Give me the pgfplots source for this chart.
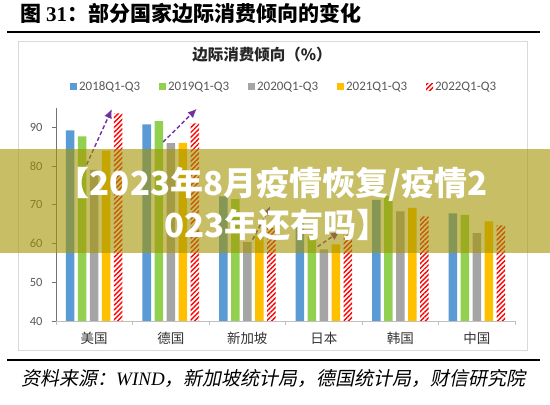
\documentclass[border=0pt]{standalone}
\usepackage{pgfplots}
\pgfplotsset{compat=1.18}
\usepackage{fontspec}
\setmainfont{Carlito}
\newfontfamily\cjk{Noto Sans CJK SC}
\newfontfamily\cjkit[FakeSlant=0.2]{Noto Sans CJK SC}
\newfontfamily\tnr{Liberation Serif}
\usetikzlibrary{patterns.meta,arrows.meta}

\definecolor{cBlue}{HTML}{5B9BD5}
\definecolor{cGreen}{HTML}{92D050}
\definecolor{cGrey}{HTML}{A5A5A5}
\definecolor{cYellow}{HTML}{FFC000}
\definecolor{cRed}{HTML}{FF0000}
\definecolor{cPurple}{HTML}{7030A0}
\definecolor{txt}{HTML}{595959}
\definecolor{frame}{HTML}{D9D9D9}
\definecolor{band}{RGB}{163,148,0}

\begin{document}
\begin{tikzpicture}[x=1pt,y=1pt]
\fill[white] (0,0) rectangle (550,405);
\path[use as bounding box] (0,0) rectangle (550,405);

% heading and rules
\node[anchor=west, inner sep=0pt] at (20,391)
  {\fontsize{21}{21}\selectfont\cjk\bfseries 图 {\tnr\bfseries 31}：部分国家边际消费倾向的变化};
\draw[line width=2.2pt] (7,373) -- (540,373);
\draw[line width=2.2pt] (7,45) -- (540,45);
\draw[frame, line width=0.8pt] (18,364) rectangle (527,55);

% chart title
\node[text=black!85] at (262,350)
  {\cjk\bfseries\fontsize{15.5}{15.5}\selectfont 边际消费倾向（\%）};

\begin{axis}[
  at={(56pt,84pt)}, anchor=south west,
  scale only axis, width=459pt, height=213pt,
  xmin=-0.5, xmax=5.5, ymin=40, ymax=95,
  axis x line*=bottom, axis y line*=left,
  x axis line style={draw=black!25, line width=0.8pt},
  y axis line style={draw=black!55, line width=0.8pt},
  ytick={40,50,...,90},
  xtick={-0.5,0.5,...,5.5},
  x tick label as interval,
  xticklabels={美国,德国,新加坡,日本,韩国,中国},
  tick align=outside, major tick length=4pt,
  xtick style={draw=black!25, line width=0.8pt},
  ytick style={draw=black!55, line width=0.8pt},
  /pgf/number format/assume math mode=true,
  yticklabel style={font=\fontsize{12.5}{12.5}\selectfont, text=txt, xshift=-6pt},
  xticklabel style={font=\cjk\fontsize{13.5}{14}\selectfont, text=black!80, yshift=-4pt},
  ybar, bar width=8.5pt,
  clip=false,
  legend columns=5,
  legend style={at={(0.497,1.099)}, anchor=center, draw=none, fill=none,
    font=\fontsize{13}{13}\selectfont, text=txt,
    /tikz/every even column/.append style={column sep=17pt}},
  legend image code/.code={\path[#1, draw=none] (0pt,-3.5pt) rectangle (7pt,3.5pt);},
]
\addplot[fill=cBlue, draw=none, bar shift=-24pt] coordinates
  {(0,89.2) (1,90.8) (2,72.2) (3,66.0) (4,71.3) (5,67.8)};
\addplot[fill=cGreen, draw=none, bar shift=-12pt] coordinates
  {(0,87.7) (1,91.6) (2,71.5) (3,62.0) (4,72.3) (5,67.4)};
\addplot[fill=cGrey, draw=none, bar shift=0pt] coordinates
  {(0,79.0) (1,85.9) (2,60.4) (3,58.5) (4,68.3) (5,62.7)};
\addplot[fill=cYellow, draw=none, bar shift=12pt] coordinates
  {(0,84.0) (1,86.0) (2,62.3) (3,59.8) (4,69.2) (5,65.7)};
\addplot[pattern={Lines[angle=45,distance=3.4pt,line width=1.4pt]}, pattern color=cRed,
  draw=none, bar shift=24pt] coordinates
  {(0,93.6) (1,91.0) (2,64.0) (3,62.3) (4,67.0) (5,64.7)};
\legend{2018Q1-Q3,2019Q1-Q3,2020Q1-Q3,2021Q1-Q3,2022Q1-Q3}

% trend arrows
\begin{scope}[cPurple, line width=1.4pt, dash pattern=on 4pt off 2.5pt,
  -{Latex[length=9pt,width=8pt]}]
\draw (axis cs:-0.10,80.4) -- (axis cs:0.23,94.7);
\draw (axis cs:0.90,86.2) -- (axis cs:1.34,94.8);
\draw (axis cs:2.07,61.0) -- (axis cs:2.30,69.6);
\draw (axis cs:2.92,59.2) -- (axis cs:3.21,63.1);
\end{scope}
\end{axis}

% source line
\node[anchor=west, inner sep=0pt] at (21,27)
  {\fontsize{19}{19}\selectfont\cjkit 资料来源：{\tnr\itshape WIND}，新加坡统计局，德国统计局，财信研究院};

% overlay band with caption
\fill[band, opacity=0.6] (0,152) rectangle (550,256);
\node[text=white, font=\cjk\bfseries\fontsize{33}{33}\selectfont] at (272,221) {【2023年8月疫情恢复/疫情2};
\node[text=white, font=\cjk\bfseries\fontsize{33}{33}\selectfont] at (277,180) {023年还有吗】};
\end{tikzpicture}
\end{document}
